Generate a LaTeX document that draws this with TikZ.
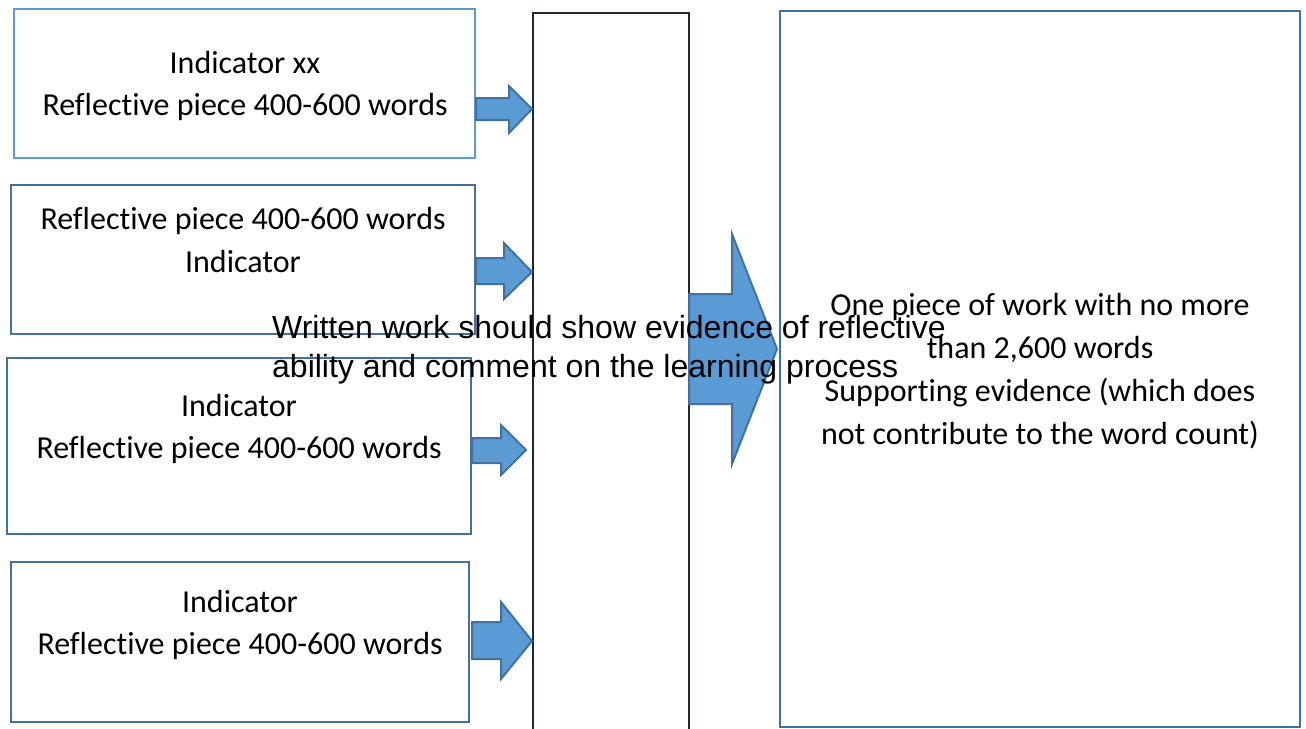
\documentclass[tikz,border=0pt]{standalone}
\usepackage{fontspec}
\setmainfont{Carlito}[Ligatures={NoCommon}]
\newfontfamily\arialfont{Liberation Sans}
\definecolor{boxblue}{HTML}{41719C}
\definecolor{lightbox}{HTML}{5B9BD5}
\definecolor{arrowfill}{HTML}{5B9BD5}
\definecolor{navyline}{HTML}{1A2740}
\begin{document}
\begin{tikzpicture}[x=1pt,y=-1pt,
  box/.style={draw=boxblue, line width=2.2pt, fill=white, rectangle, inner sep=0pt, outer sep=0pt, anchor=north west},
  txt/.style={font=\fontsize{32}{38}\selectfont, inner sep=0pt, anchor=base},
  over/.style={font=\arialfont\fontsize{32}{38}\selectfont, inner sep=0pt, anchor=base west},
  blockarrow/.style={fill=arrowfill, draw=boxblue, line width=2pt, line join=miter}]
\useasboundingbox[fill=white] (0,0) rectangle (1306,728);
% left boxes
\node[box, draw=lightbox, minimum width=461pt, minimum height=149pt] (b1) at (14,9) {};
\node[box, minimum width=464pt, minimum height=149pt] (b2) at (11,185) {};
\node[box, minimum width=464pt, minimum height=176pt] (b3) at (7,358) {};
\node[box, minimum width=458pt, minimum height=160pt] (b4) at (11,562) {};
% right box
\node[box, minimum width=520pt, minimum height=716pt] (r) at (780,11) {};
% middle tall box (runs off the bottom)
\coordinate (mbl) at (533,735);
\coordinate (mtl) at (533,13);
\coordinate (mtr) at (689,13);
\coordinate (mbr) at (689,735);
\draw[navyline, line width=2.2pt] (mbl) -- (mtl) -- (mtr) -- (mbr);
% texts in left boxes
\node[txt] (l1a) at (245,73) {Indicator xx};
\node[txt] (l1b) at (245,115.5) {Reflective piece 400-600 words};
\node[txt] (l2a) at (243,229) {Reflective piece 400-600 words};
\node[txt] (l2b) at (243,272) {Indicator};
\node[txt] (l3a) at (239,416) {Indicator};
\node[txt] (l3b) at (239,458) {Reflective piece 400-600 words};
\node[txt] (l4a) at (240,612) {Indicator};
\node[txt] (l4b) at (240,654) {Reflective piece 400-600 words};
% small block arrows
\draw[blockarrow] (476,98) -- (509,98) -- (509,86) -- (532,109) -- (509,133) -- (509,120) -- (476,120) -- cycle;
\draw[blockarrow] (476,258) -- (504,258) -- (504,243) -- (532,272) -- (504,299) -- (504,284) -- (476,284) -- cycle;
\draw[blockarrow] (472,438) -- (501,438) -- (501,425) -- (526,450) -- (501,475) -- (501,463) -- (472,463) -- cycle;
\draw[blockarrow] (472,622) -- (501,622) -- (501,602) -- (532,641) -- (501,679) -- (501,659) -- (472,659) -- cycle;
% big arrow
\draw[blockarrow] (689,294) -- (732,294) -- (732,234) -- (777,349) -- (732,464) -- (732,404) -- (689,404) -- cycle;
% right box text
\node[txt] (r1) at (1040,315) {One piece of work with no more};
\node[txt] (r2) at (1040,358) {than 2,600 words};
\node[txt] (r3) at (1040,401) {Supporting evidence (which does};
\node[txt] (r4) at (1040,444) {not contribute to the word count)};
% overlay text
\node[over] (o1) at (272,338) {Written work should show evidence of reflective};
\node[over] (o2) at (272,377) {ability and comment on the learning process};
\end{tikzpicture}
\end{document}
